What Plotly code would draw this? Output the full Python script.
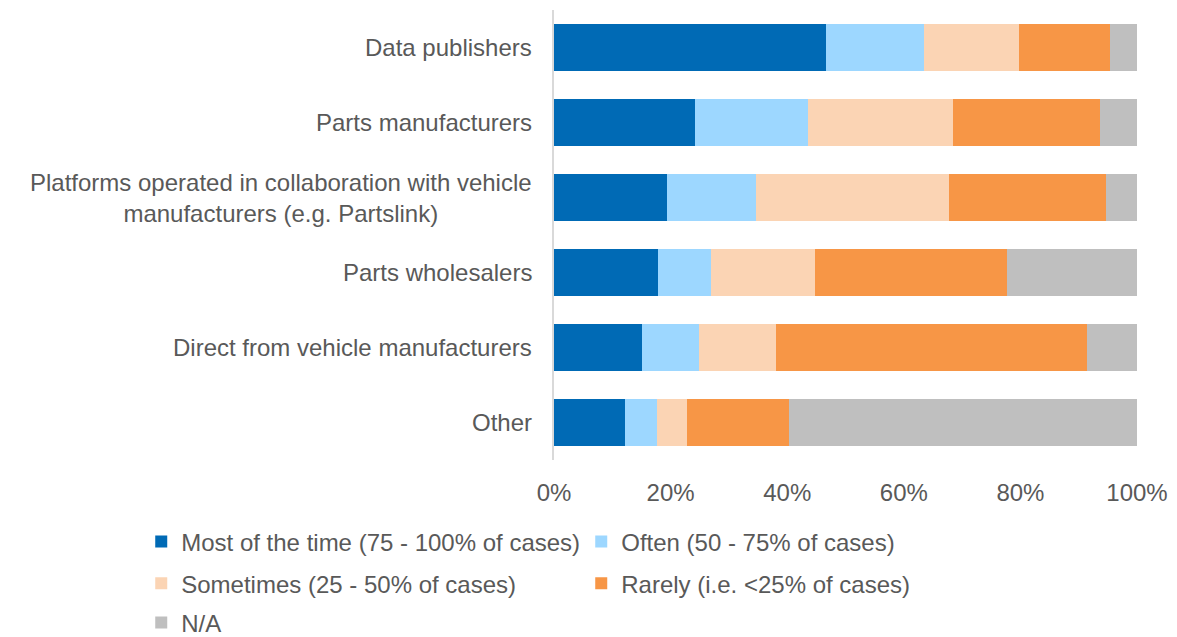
import plotly.graph_objects as go

categories = [
    "Data publishers",
    "Parts manufacturers",
    "Platforms operated in collaboration with vehicle<br>manufacturers (e.g. Partslink)",
    "Parts wholesalers",
    "Direct from vehicle manufacturers",
    "Other",
]
series_names = [
    "Most of the time (75 - 100% of cases)",
    "Often (50 - 75% of cases)",
    "Sometimes (25 - 50% of cases)",
    "Rarely (i.e. <25% of cases)",
    "N/A",
]
most_of_time = [0.467, 0.241, 0.194, 0.179, 0.151, 0.122]
often = [0.167, 0.195, 0.153, 0.090, 0.098, 0.055]
sometimes = [0.163, 0.248, 0.331, 0.178, 0.131, 0.051]
rarely = [0.156, 0.253, 0.268, 0.330, 0.535, 0.175]
not_applicable = [0.047, 0.063, 0.054, 0.223, 0.085, 0.597]
x_ticks = [0, 0.2, 0.4, 0.6, 0.8, 1.0]

colors = ["#006AB5", "#9DD7FF", "#FBD4B4", "#F79646", "#BFBFBF"]
legend_ids = ["legend", "legend", "legend2", "legend2", "legend3"]
all_values = [most_of_time, often, sometimes, rarely, not_applicable]

FONT = "Liberation Sans, Arial, sans-serif"
TXT = "#595959"
FS = 24

fig = go.Figure()
for name, vals, col, lg in zip(series_names, all_values, colors, legend_ids):
    fig.add_trace(go.Bar(
        y=categories, x=vals, name=name, orientation="h",
        marker=dict(color=col, line=dict(width=0)),
        legend=lg,
    ))

for cat in categories:
    fig.add_annotation(
        x=0, xref="paper", y=cat, yref="y", text=cat, showarrow=False,
        xanchor="right", align="center", xshift=-20,
        font=dict(family=FONT, size=FS, color=TXT),
    )

leg_common = dict(
    orientation="h", xanchor="left", yanchor="middle", x=-0.708,
    entrywidth=395, entrywidthmode="pixels",
    font=dict(family=FONT, size=FS, color=TXT),
    bgcolor="rgba(0,0,0,0)", traceorder="normal",
)

fig.update_layout(
    width=1177, height=637,
    paper_bgcolor="white", plot_bgcolor="white",
    margin=dict(l=554, r=40, t=10, b=177, autoexpand=False),
    barmode="stack", bargap=0.37,
    font=dict(family=FONT, size=FS, color=TXT),
    showlegend=True,
    legend=dict(leg_common, y=-0.182),
    legend2=dict(leg_common, y=-0.2745),
    legend3=dict(leg_common, y=-0.362),
    xaxis=dict(
        range=[0, 1], tickvals=x_ticks, tickformat=".0%",
        showgrid=False, zeroline=False, showline=False,
        ticks="outside", ticklen=11, tickcolor="rgba(0,0,0,0)",
        tickfont=dict(family=FONT, size=FS, color=TXT),
        fixedrange=True,
    ),
    yaxis=dict(
        categoryorder="array", categoryarray=categories,
        autorange="reversed", showticklabels=False,
        showgrid=False, zeroline=False,
        showline=True, linecolor="#D9D9D9", linewidth=1.5,
        ticks="", fixedrange=True,
    ),
)

fig.write_html(
    "out.html",
    config={"displayModeBar": False},
    post_script="document.body.style.margin='0';document.body.style.overflow='hidden';",
)
